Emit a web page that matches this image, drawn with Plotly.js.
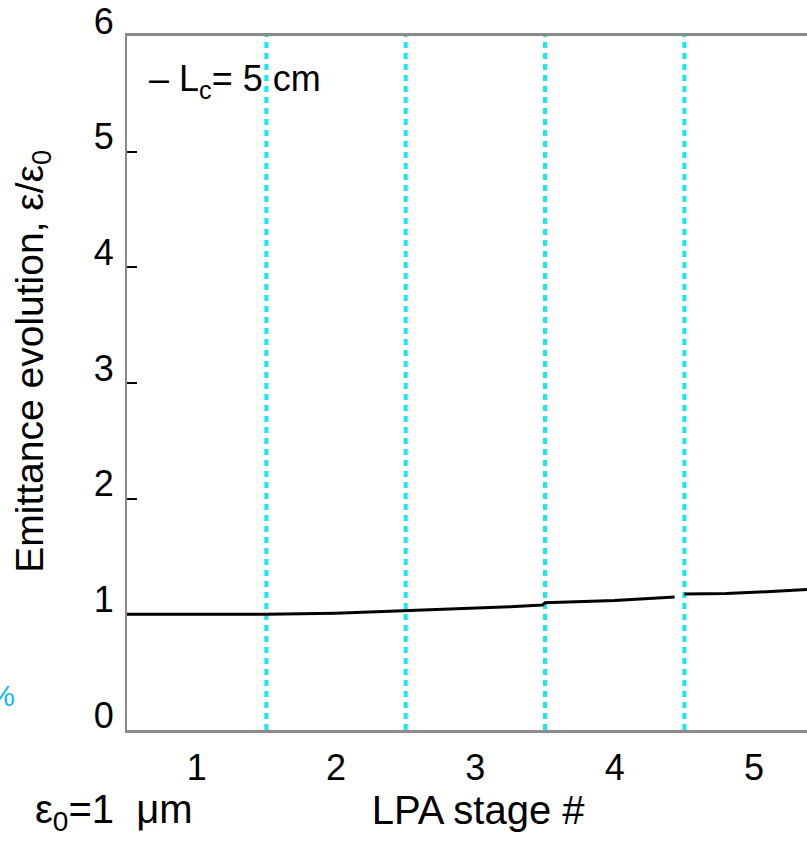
<!DOCTYPE html>
<html>
<head>
<meta charset="utf-8">
<script src="https://cdn.plot.ly/plotly-3.0.1.min.js"></script>
<style>
html,body{margin:0;padding:0;background:#fff;overflow:hidden;}
#chart{width:807px;height:842px;}
</style>
</head>
<body>
<div id="chart"></div>
<script>
// Data
const stageX = [0.5, 1.0, 1.5, 2.0, 2.5, 3.0, 3.25, 3.48, 3.5, 4.0, 4.43, null, 4.5, 4.8, 5.0, 5.2, 5.4];
const emittanceRatio = [1.00, 1.00, 1.00, 1.01, 1.03, 1.05, 1.065, 1.08, 1.10, 1.12, 1.15, null, 1.175, 1.18, 1.19, 1.20, 1.215];
const stageBoundaries = [1.5, 2.5, 3.5, 4.5];
const xTicks = [1, 2, 3, 4, 5];
const yTicks = [0, 1, 2, 3, 4, 5, 6];
const legendLabel = "– L<sub>c</sub>= 5 cm";
const xTitle = "&nbsp;&nbsp;LPA stage #";
const yTitle = "&nbsp;&nbsp;&nbsp;&nbsp;Emittance evolution, ε/ε<sub>0</sub>";
const noteText = "ε<sub>0</sub>=1&nbsp;&nbsp;μm";
const cutText = "10%";

const bx = [], by = [];
stageBoundaries.forEach(b => { bx.push(b, b, null); by.push(0, 6, null); });

const FONT = "Liberation Sans, Arial, Helvetica, sans-serif";

const traces = [
  {x: bx, y: by, type: 'scatter', mode: 'lines', hoverinfo: 'skip', showlegend: false,
   line: {color: '#19E6EE', width: 4, dash: '6px,5px'}},
  {x: stageX, y: emittanceRatio, type: 'scatter', mode: 'lines', name: 'L_c = 5 cm', showlegend: false,
   connectgaps: false, line: {color: '#000000', width: 3}}
];

const layout = {
  width: 807, height: 842,
  margin: {l: 127, r: 0, t: 36, b: 112},
  paper_bgcolor: '#ffffff', plot_bgcolor: '#ffffff',
  font: {family: FONT, color: '#000000', size: 32},
  showlegend: false,
  xaxis: {
    range: [0.5, 5.38], tickvals: xTicks, ticktext: xTicks.map(String),
    showgrid: false, zeroline: false, showline: true, linecolor: '#8a8a8a', linewidth: 3,
    mirror: true, ticks: '', ticklabelstandoff: 4,
    tickfont: {family: FONT, size: 36, color: '#000'},
    title: {text: xTitle, font: {family: FONT, size: 40, color: '#000'}, standoff: 2}
  },
  yaxis: {
    range: [0, 6], tickvals: yTicks, ticktext: yTicks.map(String),
    showgrid: false, zeroline: false, showline: true, linecolor: '#8a8a8a', linewidth: 2,
    mirror: false, ticks: 'inside', ticklen: 10, tickwidth: 2, tickcolor: '#000',
    ticklabelshift: -15, ticklabelstandoff: 4,
    tickfont: {family: FONT, size: 36, color: '#000'},
    title: {text: yTitle, font: {family: FONT, size: 39, color: '#000'}, standoff: 38}
  },
  annotations: [
    {xref: 'paper', yref: 'paper', x: 0.03, y: 0.935, xanchor: 'left', yanchor: 'middle',
     text: legendLabel, showarrow: false, font: {family: FONT, size: 36, color: '#000'}},
    {xref: 'paper', yref: 'paper', x: (33 - 127) / 680, y: (730 - 812) / 694, xanchor: 'left', yanchor: 'middle',
     text: noteText, showarrow: false, font: {family: FONT, size: 40, color: '#000'}},
    {xref: 'paper', yref: 'paper', x: (17 - 127) / 680, y: (730 - 695) / 694, xanchor: 'right', yanchor: 'middle',
     text: cutText, showarrow: false, font: {family: FONT, size: 30, color: '#12B8F0'}}
  ]
};

Plotly.newPlot('chart', traces, layout, {staticPlot: true, displayModeBar: false});
</script>
</body>
</html>
